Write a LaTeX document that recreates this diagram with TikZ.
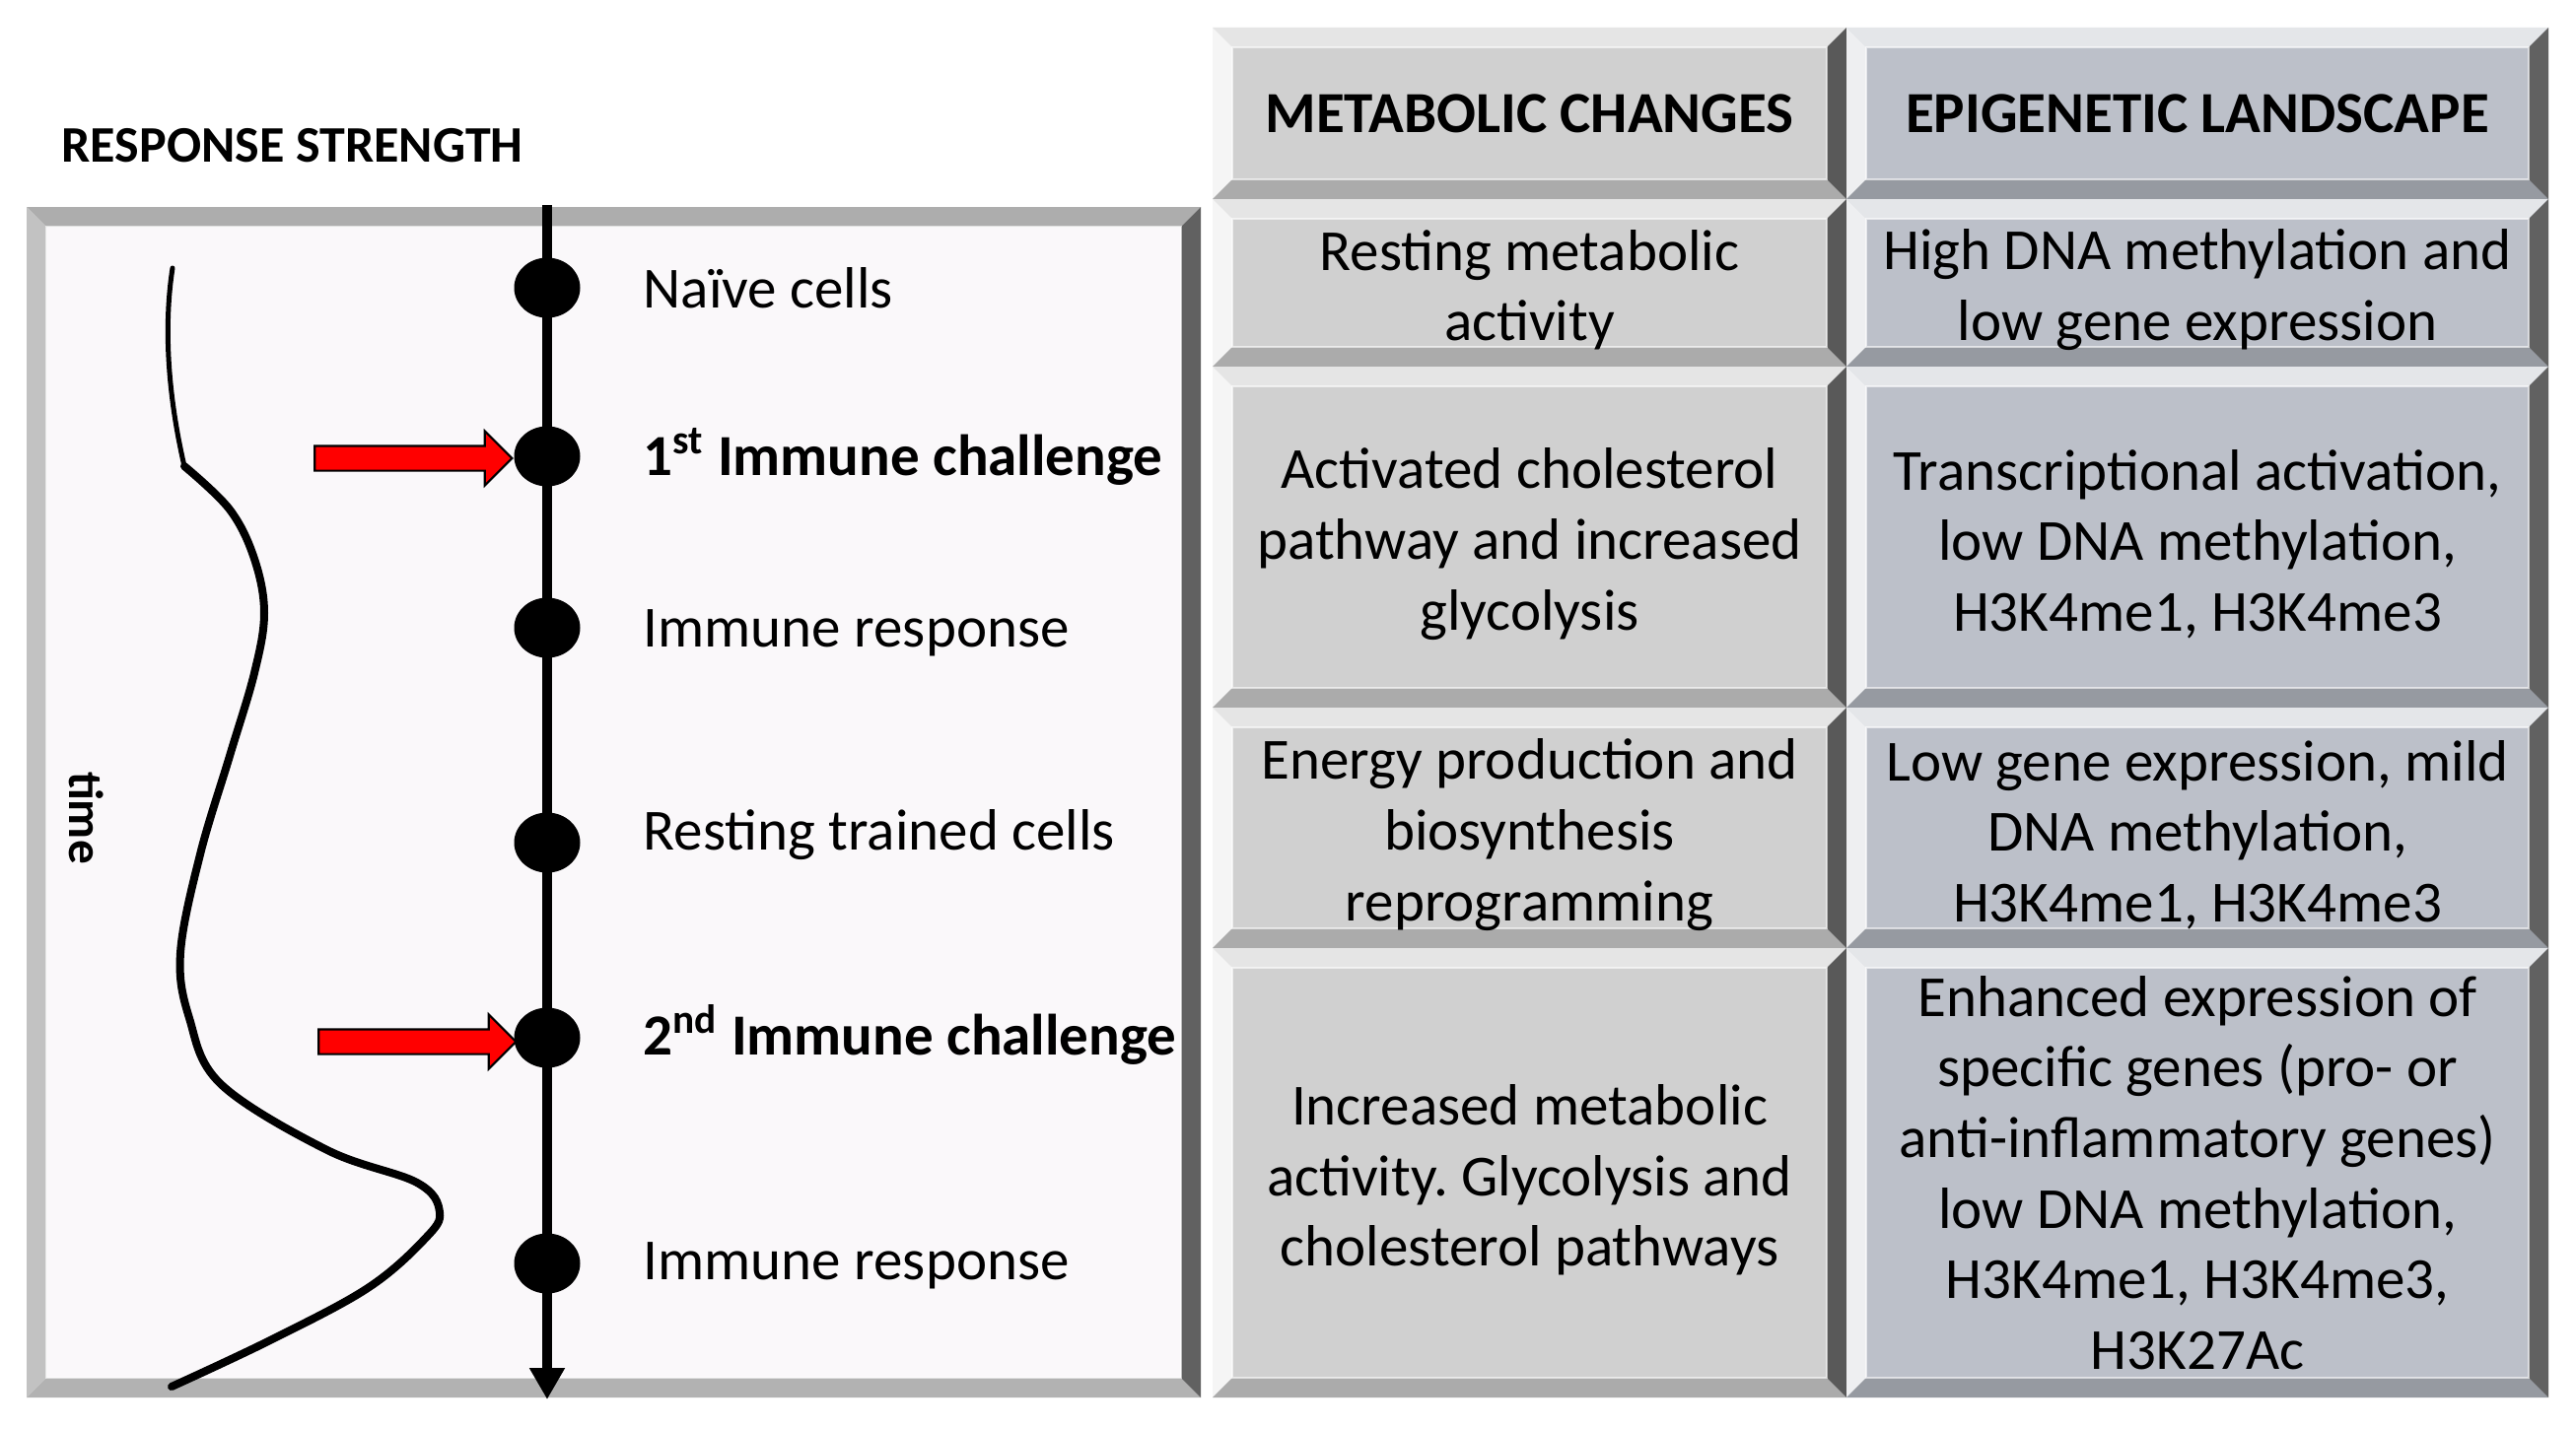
\documentclass[tikz,border=0pt]{standalone}
\usepackage{fontspec}
\setmainfont{Carlito}
\usetikzlibrary{arrows.meta,shapes.geometric,shapes.arrows}
\frenchspacing

\newcommand{\bevw}{0.2cm}
\newcommand{\bodyfont}{\fontsize{16.8pt}{20.4pt}\selectfont}
\newcommand{\topgap}{\rule{0pt}{0.94em}}
\definecolor{metfill}{HTML}{D0D0D0}
\definecolor{epifill}{HTML}{BCC0C9}
\definecolor{panelfill}{HTML}{FAF8FA}

\begin{document}
\begin{tikzpicture}[
        bevel/.style n args={4}{path picture={
            \coordinate (bo-nw) at (path picture bounding box.north west);
            \coordinate (bo-ne) at (path picture bounding box.north east);
            \coordinate (bo-se) at (path picture bounding box.south east);
            \coordinate (bo-sw) at (path picture bounding box.south west);
            \coordinate (bi-nw) at ([shift={(\bevw,-\bevw)}]path picture bounding box.north west);
            \coordinate (bi-ne) at ([shift={(-\bevw,-\bevw)}]path picture bounding box.north east);
            \coordinate (bi-se) at ([shift={(-\bevw,\bevw)}]path picture bounding box.south east);
            \coordinate (bi-sw) at ([shift={(\bevw,\bevw)}]path picture bounding box.south west);
            \fill[#1] (bo-nw) -- (bo-ne) -- (bi-ne) -- (bi-nw) -- cycle;
            \fill[#2] (bo-nw) -- (bi-nw) -- (bi-sw) -- (bo-sw) -- cycle;
            \fill[#3] (bo-sw) -- (bi-sw) -- (bi-se) -- (bo-se) -- cycle;
            \fill[#4] (bo-ne) -- (bo-se) -- (bi-se) -- (bi-ne) -- cycle;
            \draw[white, opacity=0.6, line width=0.5pt] (bi-nw) rectangle (bi-se);
        }},
        cell/.style={rectangle, inner sep=0pt, align=center, font=\bodyfont},
        metcell/.style={cell, fill=metfill, minimum width=6.43cm,
            bevel={white!90!black}{white!96!black}{black!33}{black!65}},
        epicell/.style={cell, fill=epifill, minimum width=7.12cm,
            bevel={white!60!epifill}{white!75!epifill}{black!20!epifill}{black!62}},
        timedot/.style={ellipse, fill=black, minimum width=0.67cm, minimum height=0.61cm, inner sep=0pt},
        steptext/.style={anchor=west, inner sep=0pt, font=\bodyfont},
        challenge/.style={single arrow, draw=black, line width=0.6pt, fill=red, inner sep=0.115cm,
            minimum height=2cm, minimum width=0.53cm, single arrow head extend=0.15cm, single arrow tip angle=90},
        timeaxis/.style={line width=0.1cm, -{Triangle[width=0.34cm,length=0.32cm]}}
    ]
        \useasboundingbox[fill=white] (0,0) rectangle (26.13,-14.49);

        % left panel
        \node[rectangle, fill=panelfill, minimum width=11.91cm, minimum height=12.08cm,
            bevel={black!32}{black!24}{black!30}{black!62}] (panel) at (6.225,-8.14) {};
        \node[anchor=west, inner sep=0pt, font=\fontsize{14.8pt}{17pt}\selectfont\bfseries] (title) at (0.62,-1.48) {RESPONSE STRENGTH};
        \node[rotate=-90, inner sep=0pt, font=\fontsize{14pt}{16pt}\selectfont\bfseries] (timelbl) at (0.88,-8.30) {time};

        % response curve
        \draw[line width=0.05cm, line cap=round] (1.75,-2.72) .. controls (1.66,-3.3) and (1.70,-4.0) .. (1.87,-4.73);
        \draw[line width=0.08cm, line cap=round] plot[smooth, tension=0.6] coordinates {(1.87,-4.73) (2.33,-5.17) (2.58,-5.67) (2.68,-6.22) (2.58,-6.83) (2.33,-7.67) (2.03,-8.67) (1.83,-9.67) (1.92,-10.33) (2.24,-11.00) (3.32,-11.67) (4.23,-12.00) (4.46,-12.30) (4.31,-12.57) (3.73,-13.07) (2.74,-13.60) (1.74,-14.07)};

        % time axis
        \coordinate (axtop) at (5.55,-2.08);
        \coordinate (axbot) at (5.55,-14.20);
        \draw[timeaxis] (axtop) -- (axbot);

        \node[timedot] (d1) at (5.55,-2.92) {};
        \node[timedot] (d2) at (5.55,-4.63) {};
        \node[timedot] (d3) at (5.55,-6.37) {};
        \node[timedot] (d4) at (5.55,-8.55) {};
        \node[timedot] (d5) at (5.55,-10.53) {};
        \node[timedot] (d6) at (5.55,-12.82) {};

        \node[steptext] (s1) at (6.52,-2.92) {Naïve cells};
        \node[steptext] (s2) at (6.52,-4.63) {\textbf{1\textsuperscript{st} Immune challenge}};
        \node[steptext] (s3) at (6.52,-6.42) {Immune response};
        \node[steptext] (s4) at (6.52,-8.47) {Resting trained cells};
        \node[steptext] (s5) at (6.52,-10.50) {\textbf{2\textsuperscript{nd} Immune challenge}};
        \node[steptext] (s6) at (6.52,-12.84) {Immune response};

        \node[challenge] (arr1) at (4.13,-4.65) {};
        \node[challenge] (arr2) at (4.17,-10.57) {};

        % table
        \node[metcell, minimum height=1.74cm] (met0) at (15.515,-1.15) {\textbf{METABOLIC CHANGES}};
        \node[epicell, minimum height=1.74cm] (epi0) at (22.29,-1.15) {\textbf{EPIGENETIC LANDSCAPE}};

        \node[metcell, minimum height=1.70cm] (met1) at (15.515,-2.87) {\topgap Resting metabolic\\activity};
        \node[epicell, minimum height=1.70cm] (epi1) at (22.29,-2.87) {\topgap High DNA methylation and\\low gene expression};

        \node[metcell, minimum height=3.46cm] (met2) at (15.515,-5.45) {\topgap Activated cholesterol\\pathway and increased\\glycolysis};
        \node[epicell, minimum height=3.46cm] (epi2) at (22.29,-5.45) {\topgap Transcriptional activation,\\low DNA methylation,\\H3K4me1, H3K4me3};

        \node[metcell, minimum height=2.44cm] (met3) at (15.515,-8.40) {\topgap Energy production and\\biosynthesis\\reprogramming};
        \node[epicell, minimum height=2.44cm] (epi3) at (22.29,-8.40) {\topgap Low gene expression, mild\\DNA methylation,\\H3K4me1, H3K4me3};

        \node[metcell, minimum height=4.56cm] (met4) at (15.515,-11.90) {\topgap Increased metabolic\\activity. Glycolysis and\\cholesterol pathways};
        \node[epicell, minimum height=4.56cm] (epi4) at (22.29,-11.90) {Enhanced expression of\\specific genes (pro- or\\anti-inflammatory genes)\\low DNA methylation,\\H3K4me1, H3K4me3,\\H3K27Ac};
    \end{tikzpicture}
\end{document}
